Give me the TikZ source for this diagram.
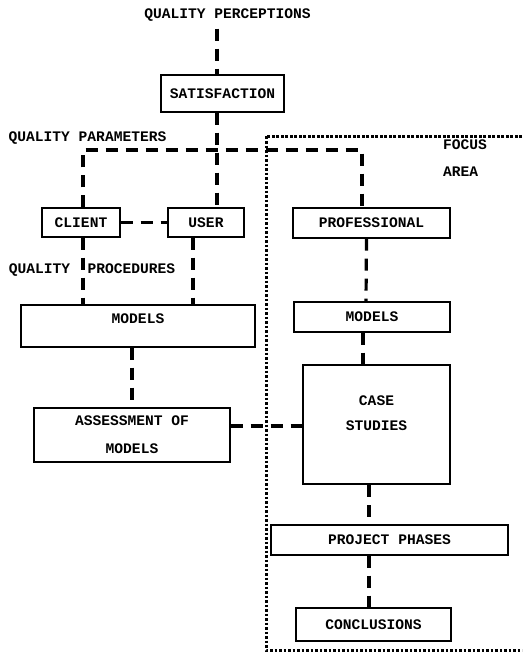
\documentclass[tikz,border=0pt]{standalone}
\usepackage{fontspec}
\setmonofont{Liberation Mono}
\usetikzlibrary{positioning,calc}

\begin{document}
\begin{tikzpicture}[x=1pt,y=-1pt,
  every node/.style={font=\fontsize{14.6}{17}\selectfont\ttfamily\bfseries},
  box/.style={draw,line width=1.3pt,inner sep=0pt,align=center},
  thickbox/.style={box,line width=2.8pt},
  tag/.style={inner sep=0pt},
  link/.style={line width=3.2pt,dash pattern=on 12pt off 8pt},
  focus/.style={line width=3pt,dash pattern=on 2.6pt off 1.9pt}]
  \useasboundingbox (0,0) rectangle (522,661);

  % top of the chain
  \node[tag] (percep) at (227.5,15) {QUALITY PERCEPTIONS};
  \node[box,minimum width=123pt,minimum height=37pt] (satis) at (222.5,93.5) {SATISFACTION};
  \node[tag] (param) at (87.5,138) {QUALITY PARAMETERS};

  \node[box,minimum width=78pt,minimum height=29pt] (client) at (81,222.5) {CLIENT};
  \node[box,minimum width=76pt,minimum height=29pt] (user) at (206,222.5) {USER};
  \node[box,minimum width=157pt,minimum height=30pt] (prof) at (371.5,223) {PROFESSIONAL};
  \node[tag] (proced) at (92,270) {QUALITY\ \ PROCEDURES};

  % left column
  \node[box,minimum width=234pt,minimum height=42pt,text depth=14pt] (modelsL) at (138,326) {MODELS};
  \node[box,minimum width=196pt,minimum height=54pt] (assess) at (132,435) {ASSESSMENT OF\\[11pt]MODELS};

  % focus area column
  \node[box,minimum width=156pt,minimum height=30pt] (modelsR) at (372,317) {MODELS};
  \node[thickbox,minimum width=147pt,minimum height=119pt,text depth=22pt] (case) at (376.5,424.5) {CASE\\[8pt]STUDIES};
  \node[box,minimum width=237pt,minimum height=30pt] (phases) at (389.5,540) {PROJECT PHASES};
  \node[box,minimum width=155pt,minimum height=33pt] (concl) at (373.5,624.5) {CONCLUSIONS};
  \node[tag,anchor=west] (focustag) at (443,145) {FOCUS};
  \node[tag,anchor=west] (areatag) at (443,172) {AREA};

  % focus area frame
  \draw[focus] (522,136) -- (266,136) -- (266,650) -- (522,650);

  % connectors
  \draw[link] ([xshift=-10.5pt,yshift=-7pt]percep.south) -- ([xshift=-5.5pt]satis.north);
  \draw[link] ([xshift=-5.5pt]satis.south) -- ([xshift=11pt]user.north);
  \draw[link] ([xshift=2pt]client.north) |- (217,150) -| ([xshift=-9.5pt]prof.north);
  \draw[link] (client.east) -- (user.west);
  \draw[link] ([xshift=2pt]client.south) -- (modelsL.north -| 83,0);
  \draw[link] ([xshift=-13pt]user.south) -- (modelsL.north -| 193,0);
  \draw[link] ([xshift=-6pt]modelsL.south) -- (assess.north);
  \draw[link] ([yshift=9pt]assess.east) -- ([yshift=9pt]assess.east -| case.west);
  \draw[link] ([xshift=-5pt]prof.south) -- ([xshift=-6pt]modelsR.north);
  \draw[link] ([xshift=-9pt]modelsR.south) -- ([xshift=-13.5pt]case.north);
  \draw[link] ([xshift=-7.5pt]case.south) -- ([xshift=-20.5pt]phases.north);
  \draw[link] ([xshift=-20.5pt]phases.south) -- ([xshift=-4.5pt]concl.north);
\end{tikzpicture}
\end{document}
